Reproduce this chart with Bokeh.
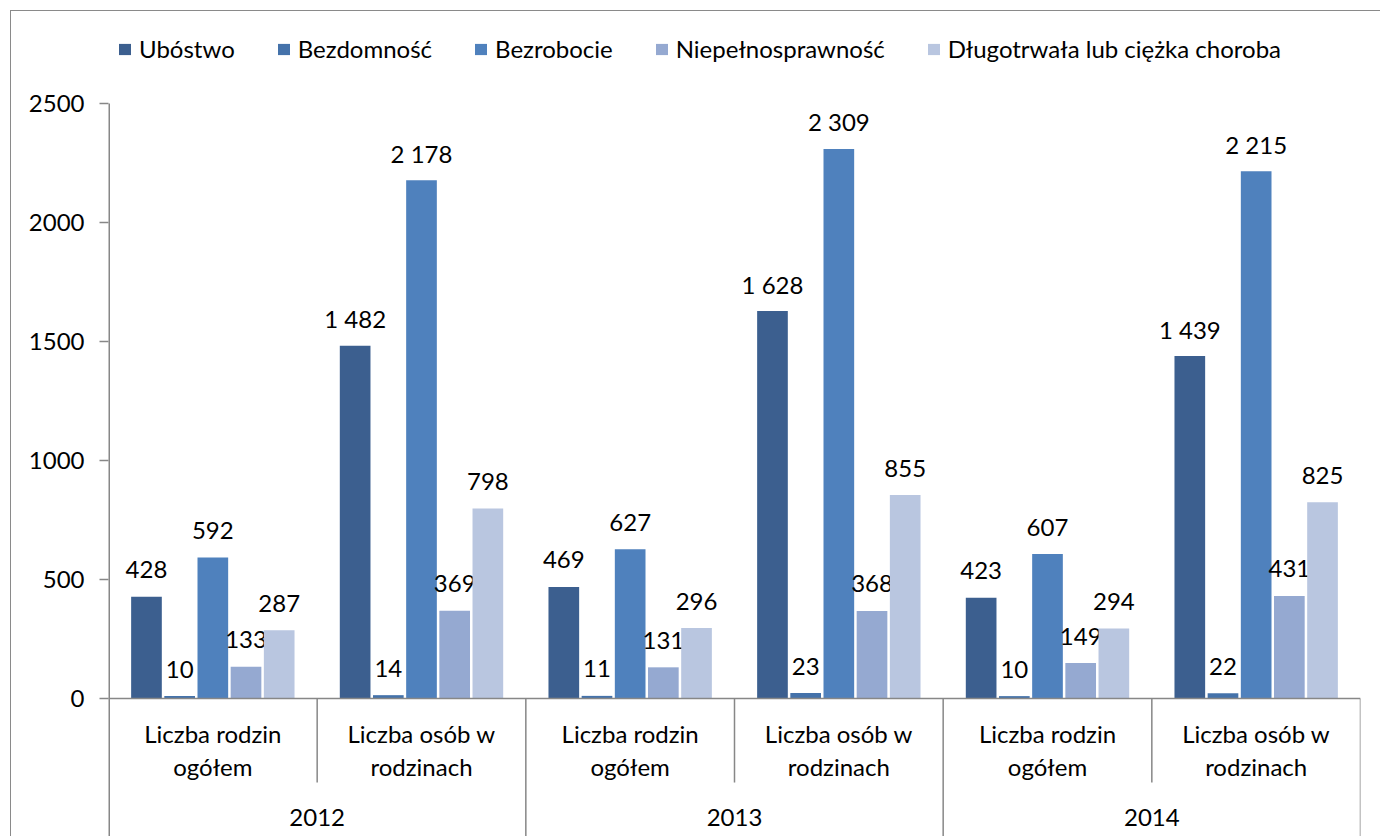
from bokeh.plotting import figure
from bokeh.models import (ColumnDataSource, FactorRange, FixedTicker, Span,
                          Legend, LegendItem, Range1d)
from bokeh.core.properties import value
from bokeh.transform import dodge
from bokeh.embed import file_html
from bokeh.resources import INLINE

# ---- data ----
years = ["2012", "2013", "2014"]
subcats = ["Liczba rodzin\nogółem", "Liczba osób w\nrodzinach"]
series = ["Ubóstwo", "Bezdomność", "Bezrobocie", "Niepełnosprawność",
          "Długotrwała lub ciężka choroba"]
ubostwo = [428, 1482, 469, 1628, 423, 1439]
bezdomnosc = [10, 14, 11, 23, 10, 22]
bezrobocie = [592, 2178, 627, 2309, 607, 2215]
niepelnosprawnosc = [133, 369, 131, 368, 149, 431]
choroba = [287, 798, 296, 855, 294, 825]
y_ticks = [0, 500, 1000, 1500, 2000, 2500]

colors = ["#3C5F8F", "#4472AA", "#4F81BD", "#95A9D1", "#B9C6E0"]
values = [ubostwo, bezdomnosc, bezrobocie, niepelnosprawnosc, choroba]

FONT = "Lato"
GRAY = "#878787"
FS = "24px"

factors = [(y, s) for y in years for s in subcats]
x_range = FactorRange(*factors, factor_padding=0, subgroup_padding=0,
                      group_padding=0, range_padding=0)

# pixel geometry (frame covers full canvas height)
ppu = 595 / 2500.0          # pixels per data unit
canvas_h = 826
zero_px = 687               # zero line, px from canvas top
y_end = zero_px / ppu
y_start = -(canvas_h - zero_px) / ppu
y_max = max(y_ticks)

p = figure(width=1370, height=canvas_h, x_range=x_range,
           y_range=Range1d(y_start, y_end),
           output_backend="svg", toolbar_location=None,
           min_border_left=97, min_border_right=21,
           min_border_top=0, min_border_bottom=0)
p.margin = (10, 0, 0, 10)
p.styles = {"border-left": "1px solid #8a8a8a", "border-top": "1px solid #8a8a8a"}
p.outline_line_color = None
p.xgrid.visible = False
p.ygrid.visible = False
p.xaxis.visible = False

yax = p.yaxis[0]
yax.ticker = FixedTicker(ticks=y_ticks)
yax.axis_line_color = None
yax.major_tick_line_color = GRAY
yax.major_tick_line_width = 1.5
yax.major_tick_out = 9
yax.major_tick_in = 0
yax.minor_tick_line_color = None
yax.major_label_text_font = FONT
yax.major_label_text_font_size = FS
yax.major_label_text_color = "#000000"
yax.major_label_standoff = 15

# zero line
p.add_layout(Span(location=0, dimension="width", line_color=GRAY, line_width=1.5))

offsets = [-2, -1, 0, 1, 2]
pitch = 0.159
bar_w = 0.147

src = ColumnDataSource(dict(x=factors, **{f"s{i}": v for i, v in enumerate(values)},
                            **{f"t{i}": [f"{val:,}".replace(",", " ") for val in v]
                               for i, v in enumerate(values)}))

legend_items = []
for i, name in enumerate(series):
    xd = dodge("x", offsets[i] * pitch, range=p.x_range)
    r = p.vbar(x=xd, top=f"s{i}", bottom=0, width=bar_w, source=src,
               fill_color=colors[i], line_color=None)
    p.text(x=xd, y=f"s{i}", text=f"t{i}", source=src, y_offset=-27,
           text_align="center", text_baseline="middle",
           text_font=value(FONT), text_font_size=FS, text_color="#000000")
    legend_items.append(LegendItem(label=name, renderers=[r]))

# y axis line (top of scale down to the bottom edge) and divider lines
left_src = ColumnDataSource(dict(x=[factors[0]]))
p.segment(x0=dodge("x", -0.5, range=p.x_range), y0=y_max,
          x1=dodge("x", -0.5, range=p.x_range), y1=y_start,
          source=left_src, line_color=GRAY, line_width=3)
sub_src = ColumnDataSource(dict(x=[(y, subcats[1]) for y in years]))
p.segment(x0=dodge("x", -0.5, range=p.x_range), y0=0,
          x1=dodge("x", -0.5, range=p.x_range), y1=-353,
          source=sub_src, line_color=GRAY, line_width=1.5)
grp_src = ColumnDataSource(dict(x=[(y, subcats[0]) for y in years[1:]]))
p.segment(x0=dodge("x", -0.5, range=p.x_range), y0=0,
          x1=dodge("x", -0.5, range=p.x_range), y1=y_start,
          source=grp_src, line_color=GRAY, line_width=1.5)
end_src = ColumnDataSource(dict(x=[(years[-1], subcats[1])]))
p.segment(x0=dodge("x", 0.5, range=p.x_range), y0=0,
          x1=dodge("x", 0.5, range=p.x_range), y1=y_start,
          source=end_src, line_color=GRAY, line_width=1.5)

# category labels
line1 = [s.split("\n")[0] for _, s in factors]
line2 = [s.split("\n")[1] for _, s in factors]
lab_src = ColumnDataSource(dict(x=factors, l1=line1, l2=line2))
p.text(x="x", y=-147, text="l1", source=lab_src, text_align="center",
       text_baseline="middle", text_font=value(FONT), text_font_size=FS,
       text_color="#000000")
p.text(x="x", y=-286, text="l2", source=lab_src, text_align="center",
       text_baseline="middle", text_font=value(FONT), text_font_size=FS,
       text_color="#000000")
yr_src = ColumnDataSource(dict(x=[(y, subcats[1]) for y in years], t=years))
p.text(x=dodge("x", -0.5, range=p.x_range), y=-500, text="t", source=yr_src,
       text_align="center", text_baseline="middle", text_font=value(FONT),
       text_font_size=FS, text_color="#000000")

legend = Legend(items=legend_items, orientation="horizontal",
                location=(9, canvas_h - 38 - 14), padding=0, margin=0,
                spacing=41, glyph_width=15, glyph_height=14, label_standoff=7,
                label_height=20,
                label_text_font=FONT, label_text_font_size=FS,
                label_text_color="#000000", border_line_color=None,
                background_fill_alpha=0)
p.add_layout(legend)

open("out.html", "w").write(file_html(p, INLINE))
